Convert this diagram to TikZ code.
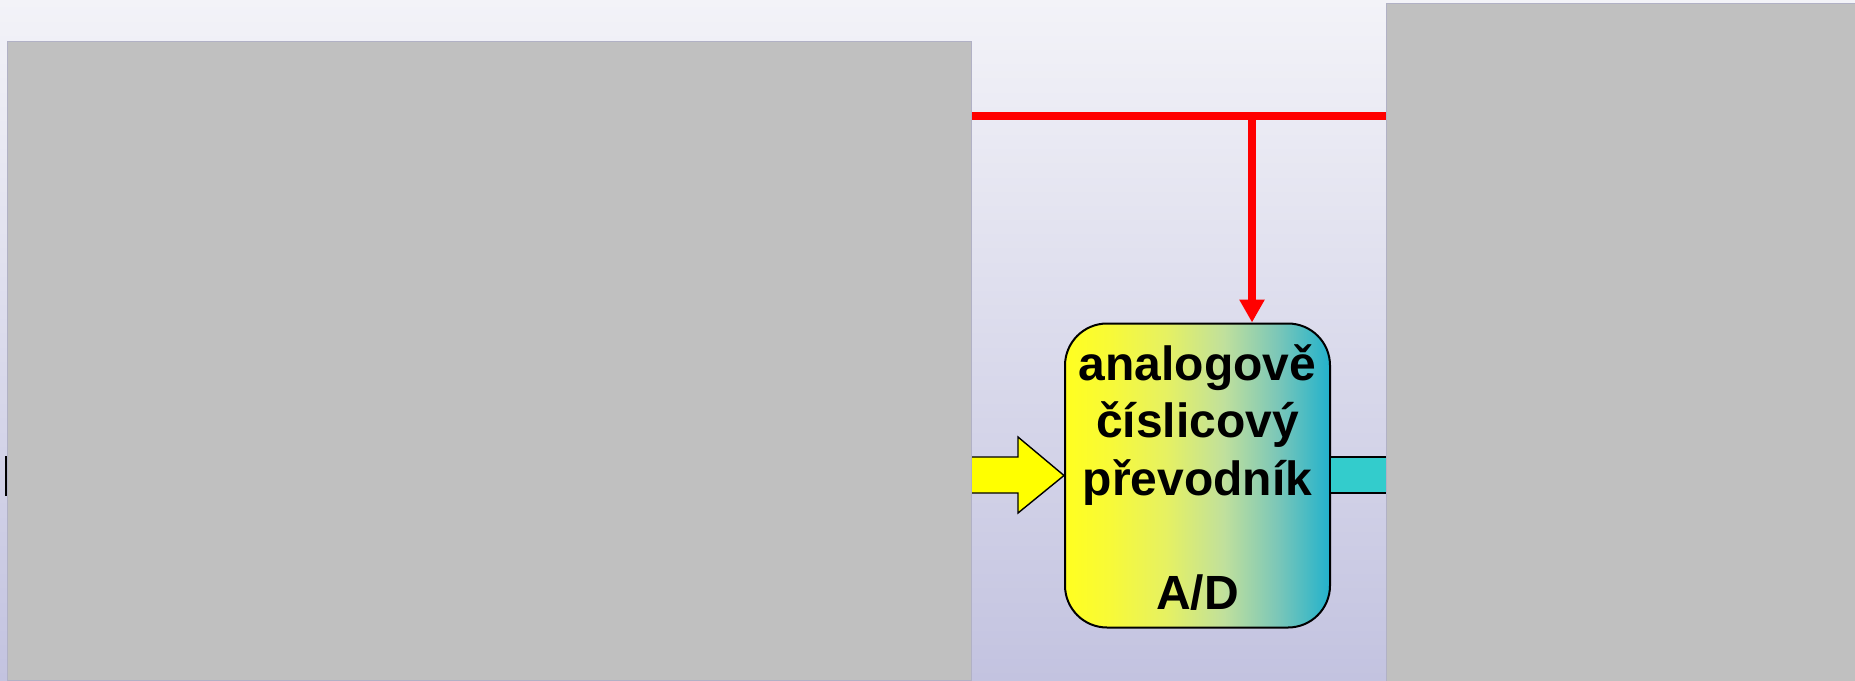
\documentclass[tikz,border=0pt]{standalone}
\usepackage{fontspec}
\setmainfont{Liberation Sans}
\usetikzlibrary{arrows.meta}
\definecolor{bgtop}{HTML}{F3F3F8}
\definecolor{bgbot}{HTML}{C3C3E0}
\definecolor{grayblk}{HTML}{C0C0C0}
\definecolor{yel}{HTML}{FFFF00}
\definecolor{tealarr}{HTML}{33CCCC}
\definecolor{sA}{HTML}{FFFF20}
\definecolor{sB}{HTML}{F8FA36}
\definecolor{sC}{HTML}{E6F162}
\definecolor{sD}{HTML}{C0E09C}
\definecolor{sE}{HTML}{7CC7B8}
\definecolor{sF}{HTML}{22B2CC}
\pgfdeclarehorizontalshading{adshade}{100bp}{color(0bp)=(sA); color(25bp)=(sA); color(33bp)=(sB); color(44bp)=(sC); color(55bp)=(sD); color(65bp)=(sE); color(75bp)=(sF); color(100bp)=(sF)}
\tikzset{
  graybox/.style={fill=grayblk, draw=grayblk!92!blue, line width=0.4pt},
  adbox/.style={rectangle, rounded corners=21pt, draw=black, line width=1pt, shading=adshade, minimum width=132.5pt, minimum height=152pt, inner sep=0pt},
  adtext/.style={anchor=base, inner sep=0pt, font=\bfseries\fontsize{24}{28.75}\selectfont},
  redline/.style={draw=red, line width=4pt},
  bigarrow/.style={draw=black, line width=0.7pt, line join=miter}
}
\begin{document}
\begin{tikzpicture}[x=0.5pt, y=-0.5pt]
  \useasboundingbox (0,0) rectangle (1855,680);
  \shade[top color=bgtop, bottom color=bgbot] (0,0) rectangle (1855,680);

  % A/D converter
  \node[adbox] (ad) at (1197.5,475.5) {};
  \node[adtext] (t1) at (1197.5,380) {analogově};
  \node[adtext] (t2) at (1197.5,437.5) {číslicový};
  \node[adtext] (t3) at (1197.5,495) {převodník};
  \node[adtext] (t4) at (1197.5,609) {A/D};

  % red control line
  \coordinate (rl) at (940,116);
  \coordinate (rr) at (1420,116);
  \coordinate (tap) at (1252,116);
  \draw[redline] (rl) -- (rr);
  \draw[redline, -{Triangle[width=12pt,length=11.5pt]}] (tap) -- (ad.north -| tap);

  % yellow input arrow
  \filldraw[bigarrow, fill=yel] (900,457) -- (1018,457) -- (1018,437) -- (ad.west) -- (1018,513) -- (1018,493) -- (900,493) -- cycle;
  % teal output arrow
  \filldraw[bigarrow, fill=tealarr] (ad.east |- 0,457) -- (1430,457) -- (1430,493) -- (ad.east |- 0,493);

  % small black edge at the left
  \draw[black, line width=1pt] (6,456) -- (6,496);

  % gray panels
  \node[graybox, rectangle, inner sep=0pt, anchor=north west, minimum width=482pt, minimum height=319.5pt] (lg) at (7,41) {};
  \node[graybox, rectangle, inner sep=0pt, anchor=north west, minimum width=235pt, minimum height=340pt] (rg) at (1386,3) {};
\end{tikzpicture}
\end{document}
